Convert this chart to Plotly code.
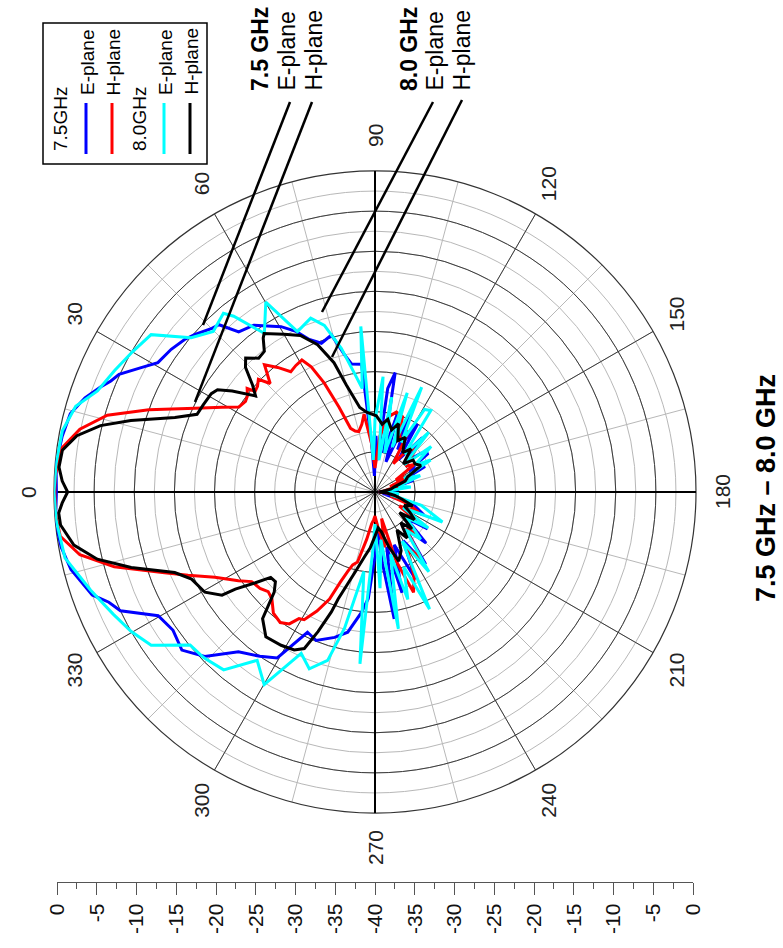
import math
import plotly.graph_objects as go

# ---------------- data (angle in degrees, level in dB) ----------------
E75_THETA = [0, 5, 10, 14.4, 18, 21.2, 22.8, 24.7, 28, 30.8, 35, 38.7, 41.2, 45.1, 47, 49.6, 54, 60.4,
             63.8, 66.7, 70.2, 74.5, 77.5, 79.7, 84, 86, 88, 91, 94, 97, 99.6, 102, 106, 110, 114, 118,
             122, 126, 131, 136, 140, 144, 148, 153, 158, 163, 168, 174, 180, 186, 192, 198, 205, 210,
             215, 220, 225, 230, 235, 240, 245, 250, 255, 258, 261.4, 264, 267, 270, 273.6, 276.4, 281,
             285.5, 291.6, 295.7, 300.5, 305, 310.5, 316, 320.7, 325.6, 330.3, 335, 337.5, 340, 345.7,
             350, 354.5, 360]
E75_DB = [-0.3, -0.1, -0.4, -0.8, -2, -3.5, -4.3, -4.9, -7, -8.5, -9, -9.6, -10.2, -11.2, -11.5, -13.8,
          -14.3, -16.3, -17.7, -19.3, -20.3, -19.7, -22.5, -23.8, -24, -34, -38, -33, -36, -27, -24.9,
          -35, -30, -36, -29, -34, -30, -35, -31, -34.5, -32.5, -31.8, -35, -33, -36.5, -35, -38, -37,
          -39.5, -37.5, -39, -35, -33.3, -36, -32, -35, -31, -34, -29, -33, -28, -33, -27, -33, -24,
          -31, -36, -32, -26.7, -24.9, -22.2, -21.2, -20.1, -20.6, -16, -15, -13.8, -10.5, -8.9, -9.5,
          -8.9, -5, -4.1, -2.5, -0.9, -0.3, 0, -0.3]

H75_THETA = [0, 3, 8, 12, 16, 20, 25, 29, 32, 35, 37, 39, 40, 42, 44, 46, 49, 52, 55, 58, 61, 63, 65,
             67, 69, 72, 75, 79, 82, 86, 90, 95, 100, 105, 110, 115, 119, 123, 128, 134, 140, 145, 150,
             155, 160, 165, 170, 175, 180, 185, 190, 195, 200, 205, 210, 215, 220, 225, 230, 235, 240,
             245, 249, 253, 256, 260, 265, 270, 273, 276, 280, 284, 287, 289, 291, 293, 296, 299, 301,
             303, 306, 310, 314, 317, 320, 324, 327, 332, 336, 339, 344, 348, 352, 356, 360]
H75_DB = [-0.1, -0.1, -0.6, -2.4, -5.3, -10, -15.3, -18.2, -20, -20.3, -20.1, -19.5, -20.5, -20.3,
          -19.8, -21.2, -19, -20.3, -21.7, -21.4, -21.2, -22.5, -25, -28.5, -31.5, -32, -32.2, -31.4,
          -30.2, -34, -37, -33, -30.5, -29.7, -30, -33, -31.3, -35.8, -33, -32.8, -35, -34, -37, -35,
          -38, -36.5, -38.5, -39, -39.5, -38.5, -37, -38, -35.5, -34, -36.5, -33.5, -35, -32.5, -34,
          -30, -32, -28.5, -26.6, -31, -36.6, -33, -35.5, -37, -36.5, -36, -34, -31, -30.5, -29.5, -28,
          -25.5, -23.5, -21.8, -21.6, -20.4, -19.9, -20.3, -21.5, -21.8, -21.3, -21, -19.7, -17.4,
          -14.5, -11.9, -6.2, -2.4, -0.4, -0.1, -0.1]

E80_THETA = [0, 5, 11.1, 16, 20, 25, 30.1, 35.1, 40, 44.8, 49.7, 51.2, 55.1, 60.1, 64.2, 69.7, 73.1,
             76.8, 80.3, 83, 85.1, 87, 90, 94, 97, 100, 104, 108, 111, 114, 118, 121, 124.4, 128, 132,
             137, 141, 146, 150, 155, 160, 166, 172, 178, 184, 190, 196, 204, 209, 214, 219, 226, 231,
             236, 241, 245, 249, 253, 256, 260.3, 263, 267, 270, 272, 275, 278, 282.6, 285.7, 290.4,
             294.6, 299.9, 305, 310.4, 316, 320.4, 325.6, 330.2, 335, 341, 348, 355, 360]
E80_DB = [0, -0.1, -0.3, -1.2, -3.2, -4.2, -5.1, -5.9, -10.1, -11.6, -10.8, -11.9, -15.9, -12.7, -17.8,
          -16.9, -18.3, -21.6, -25.1, -27, -19.3, -36, -31, -25.6, -36, -28, -35, -27, -34, -25.7, -33,
          -28, -27.7, -34, -30, -35, -31, -34, -32, -36, -34, -37, -35.5, -39, -37, -38, -34, -30.8,
          -36, -32, -35, -31.8, -34, -28, -33, -23.9, -30, -26, -32, -22.7, -34, -28, -36, -33, -18.5,
          -30, -22.6, -18.2, -16.5, -17.9, -12.3, -14.4, -10.9, -10.3, -10.1, -6.2, -5, -4, -2.5,
          -0.5, -0.1, 0]

H80_THETA = [0, 2, 4.5, 7.6, 10.7, 13.6, 16.3, 20.4, 23.6, 27, 31, 33, 35.3, 38.8, 41.2, 43.9, 46, 49,
             51.8, 54, 55, 60, 64.5, 68.7, 72.4, 75, 79.8, 84, 91, 96, 100, 105, 109, 114, 119, 125,
             130, 135, 140, 145, 150, 155, 160, 165, 170, 175, 180, 185, 190, 195, 200, 205, 210, 215,
             220, 225, 230, 235, 240, 246, 251, 256, 261, 265, 270, 275, 279, 284, 289, 290, 292.2,
             294.3, 297.1, 301.5, 307, 311.6, 315.2, 318, 320.7, 322.8, 325.2, 326, 329.5, 334.6,
             338.1, 342.8, 346.4, 350, 354, 356.2, 358, 360]
H80_DB = [-1.7, -1, -0.5, -0.7, -2.2, -4.8, -8.3, -13.4, -15.8, -16, -16.2, -16.6, -18.2, -20.9, -19.7,
          -17.6, -16.8, -17.9, -17.7, -16.3, -15.9, -17.3, -18.4, -20.3, -23.1, -26.2, -29.3, -30,
          -30.5, -31.5, -30.8, -32, -31, -33, -32.2, -34, -33, -35, -33.8, -33.9, -33.4, -35.5, -36,
          -37.5, -38, -39, -39.5, -38.5, -37.5, -36.5, -35, -36, -35, -34, -36, -33.5, -35, -33, -34.5,
          -32, -30.9, -33, -35, -35.5, -34.5, -33, -31.9, -29.7, -25.9, -24.1, -21.2, -18.6, -17.9,
          -17.6, -17.4, -18.9, -22.3, -23.3, -23.2, -21.3, -18.8, -17, -15.4, -14.7, -13.1, -8.2, -4.4,
          -1.9, -0.6, -0.5, -1.0, -1.7]

SERIES = [("7.5GHz E-plane", E75_THETA, E75_DB, "#0000ff"),
          ("7.5GHz H-plane", H75_THETA, H75_DB, "#ff0000"),
          ("8.0GHz E-plane", E80_THETA, E80_DB, "#00ffff"),
          ("8.0GHz H-plane", H80_THETA, H80_DB, "#000000")]

ANGLE_LABELS = [0, 30, 60, 90, 120, 150, 180, 210, 240, 270, 300, 330]
SCALE_VALS = [-40, -35, -30, -25, -20, -15, -10, -5, 0, 5, 10, 15, 20, 25, 30, 35, 40]
SCALE_TEXT = ["0", "-5", "-10", "-15", "-20", "-25", "-30", "-35", "-40",
              "-35", "-30", "-25", "-20", "-15", "-10", "-5", "0"]
TITLE = "7.5 GHz \u2013 8.0 GHz"

# ---------------- geometry (pixels) ----------------
W, H = 783, 948
CX, CY, R = 375, 492, 321
FONT = "Arial, Liberation Sans, sans-serif"


def fx(x):
    return x / W


def fy(y):
    return 1 - y / H


fig = go.Figure()

# empty traces so the grid-only polar layers are created
fig.add_trace(go.Scatterpolar(r=[], theta=[], subplot="polar", showlegend=False, hoverinfo="skip"))
fig.add_trace(go.Scatterpolar(r=[], theta=[], subplot="polar2", showlegend=False, hoverinfo="skip"))
fig.add_trace(go.Scatter(x=[], y=[], showlegend=False, hoverinfo="skip"))

for name, th, db, col in SERIES:
    fig.add_trace(go.Scatterpolar(r=db, theta=th, mode="lines", name=name,
                                  line=dict(color=col, width=3), subplot="polar3",
                                  showlegend=False))

dom = dict(x=[fx(CX - R), fx(CX + R)], y=[fy(CY + R), fy(CY - R)])
ang_common = dict(rotation=180, direction="clockwise", showticklabels=False, ticks="")
rad_common = dict(range=[-40, 0], showticklabels=False, ticks="", showline=False)

fig.update_layout(
    template="none",
    width=W, height=H,
    margin=dict(l=0, r=0, t=0, b=0, pad=0, autoexpand=False),
    paper_bgcolor="white", plot_bgcolor="rgba(0,0,0,0)",
    showlegend=False,
    font=dict(family=FONT, color="#111"),
    polar=dict(domain=dom, bgcolor="white",
               radialaxis=dict(**rad_common, tick0=-40, dtick=2.5, gridcolor="#b8b8b8", gridwidth=1),
               angularaxis=dict(**ang_common, tick0=0, dtick=15, gridcolor="#b8b8b8", gridwidth=1,
                                showline=False)),
    polar2=dict(domain=dom, bgcolor="rgba(0,0,0,0)",
                radialaxis=dict(**rad_common, tick0=-40, dtick=5, gridcolor="#3c3c3c", gridwidth=1),
                angularaxis=dict(**ang_common, tick0=0, dtick=30, gridcolor="#3c3c3c", gridwidth=1,
                                 showline=True, linecolor="#333", linewidth=1.2)),
    polar3=dict(domain=dom, bgcolor="rgba(0,0,0,0)",
                radialaxis=dict(**rad_common, showgrid=False),
                angularaxis=dict(**ang_common, tickmode="array", tickvals=[0, 90, 180, 270],
                                 gridcolor="#000", gridwidth=1.5, showline=False)),
    xaxis=dict(domain=[fx(57), fx(693)], range=[-40, 40], tickmode="array", automargin=False,
               tickvals=SCALE_VALS, ticktext=SCALE_TEXT, tickangle=-90,
               ticks="outside", ticklen=12, tickwidth=1.3, tickcolor="#555",
               showline=True, linecolor="#555", linewidth=1.3, showgrid=False, zeroline=False,
               tickfont=dict(size=21, family=FONT, color="#111"),
               minor=dict(dtick=2.5, tick0=-40, ticks="outside", ticklen=6, tickcolor="#555",
                          tickwidth=1.2, showgrid=False),
               fixedrange=True),
    yaxis=dict(domain=[fy(882), fy(870)], visible=False, range=[0, 1], fixedrange=True,
               automargin=False),
)

annotations = []
shapes = []

# angular labels around the circle
for a in ANGLE_LABELS:
    t = math.radians(a)
    x = CX - 347 * math.cos(t)
    y = CY - 356 * math.sin(t)
    annotations.append(dict(x=fx(x), y=fy(y), xref="paper", yref="paper", text=str(a),
                            showarrow=False, textangle=-90, xanchor="center", yanchor="middle",
                            font=dict(size=21, family=FONT, color="#222")))

# title at the right
annotations.append(dict(x=fx(766), y=fy(488), xref="paper", yref="paper", text="<b>%s</b>" % TITLE,
                        showarrow=False, textangle=-90, xanchor="center", yanchor="middle",
                        font=dict(size=27, family=FONT, color="#000")))

# callouts
callouts = [("<b>7.5 GHz</b>", 260), ("E-plane", 287), ("H-plane", 314),
            ("<b>8.0 GHz</b>", 409), ("E-plane", 435), ("H-plane", 462)]
for txt, x in callouts:
    annotations.append(dict(x=fx(x), y=fy(93), xref="paper", yref="paper", text=txt,
                            showarrow=False, textangle=-90, xanchor="center", yanchor="bottom",
                            font=dict(size=23, family=FONT, color="#000")))
for (x0, y0, x1, y1) in [(290, 102, 203, 325), (312, 102, 195, 402),
                         (433, 102, 322, 312), (462, 100, 332, 357)]:
    shapes.append(dict(type="line", xref="paper", yref="paper", x0=fx(x0), y0=fy(y0),
                       x1=fx(x1), y1=fy(y1), line=dict(color="#000", width=2.5)))

# custom rotated legend
shapes.append(dict(type="rect", xref="paper", yref="paper", x0=fx(43), x1=fx(207),
                   y0=fy(164), y1=fy(23), line=dict(color="#000", width=1.5),
                   fillcolor="white", layer="below"))
legend_items = [("7.5GHz", 61, 153, None), ("E-plane", 87, 97, "#0000ff"),
                ("H-plane", 113, 97, "#ff0000"), ("8.0GHz", 140, 153, None),
                ("E-plane", 165, 97, "#00ffff"), ("H-plane", 191, 97, "#000000")]
for txt, x, yb, col in legend_items:
    annotations.append(dict(x=fx(x), y=fy(yb), xref="paper", yref="paper", text=txt,
                            showarrow=False, textangle=-90, xanchor="center", yanchor="bottom",
                            font=dict(size=19, family=FONT, color="#000")))
    if col:
        shapes.append(dict(type="line", xref="paper", yref="paper", x0=fx(x - 1), x1=fx(x - 1),
                           y0=fy(154), y1=fy(103), line=dict(color=col, width=3)))

fig.update_layout(annotations=annotations, shapes=shapes)
fig.write_html("out.html", config={"displayModeBar": False},
               post_script="document.body.style.margin='0px';")
